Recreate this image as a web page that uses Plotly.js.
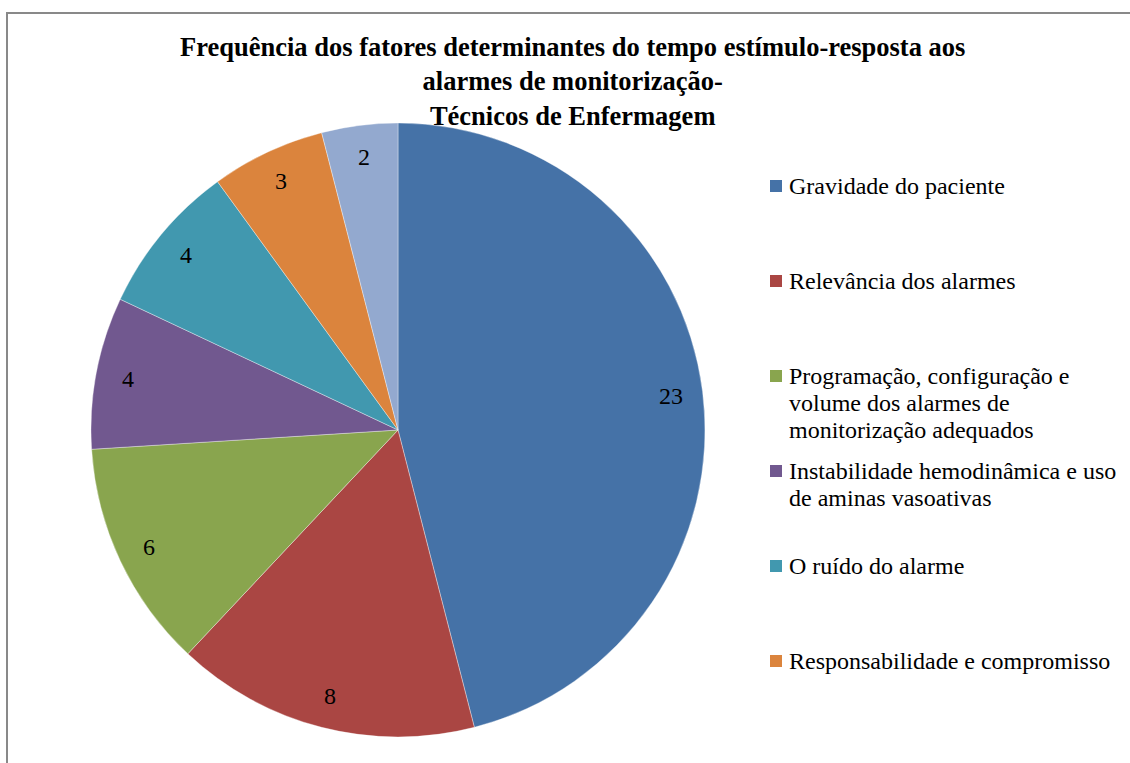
<!DOCTYPE html>
<html>
<head>
<meta charset="utf-8">
<script src="https://cdn.plot.ly/plotly-3.0.1.min.js"></script>
<style>html,body{margin:0;padding:0;background:#fff;}#chart{width:1130px;height:763px;}</style>
</head>
<body>
<div id="chart"></div>
<script>
// ---- data ----
const categories = [
  "Gravidade do paciente",
  "Relevância dos alarmes",
  "Programação, configuração e<br>volume dos alarmes de<br>monitorização adequados",
  "Instabilidade hemodinâmica e uso<br>de aminas vasoativas",
  "O ruído do alarme",
  "Responsabilidade e compromisso",
  "Outros"
];
const values = [23, 8, 6, 4, 4, 3, 2];
const colors = ["#4572A7", "#AA4643", "#89A54E", "#71588F", "#4198AF", "#DB843D", "#93A9CF"];
const legendShown = 6; // legend entries visible in the cropped reference
const titleLines = [
  "Frequência dos fatores determinantes do tempo estímulo-resposta aos",
  "alarmes de monitorização-",
  "Técnicos de Enfermagem"
];

// ---- layout geometry (pixels) ----
const W = 1130, H = 763;
const cxPx = 398, cyPx = 430, rPx = 307;
const labelR = 0.895 * rPx;
const FONT = "Liberation Serif";

const px = x => x / W;
const py = y => 1 - y / H;

const pie = {
  type: "pie",
  labels: categories.map(c => c.replace(/<br>/g, " ")),
  values: values,
  sort: false,
  direction: "clockwise",
  rotation: 0,
  marker: {colors: colors, line: {color: "rgba(255,255,255,0.6)", width: 0.6}},
  textinfo: "none",
  hoverinfo: "label+value",
  showlegend: false,
  domain: {x: [px(cxPx - rPx), px(cxPx + rPx)], y: [py(cyPx + rPx), py(cyPx - rPx)]}
};

const annotations = [];
const shapes = [];

// title (one multi-line text block)
annotations.push({
  xref: "paper", yref: "paper",
  x: px(572), y: py(81),
  text: titleLines.map(t => "<b>" + t + "</b>").join("<br>"),
  showarrow: false, align: "center",
  xanchor: "center", yanchor: "middle",
  font: {family: FONT, size: 26.5, color: "#000"}
});

// data labels near the outer edge of each slice (computed from values)
const total = values.reduce((a, b) => a + b, 0);
let cum = 0;
values.forEach((v, i) => {
  const mid = (cum + v / 2) / total * 2 * Math.PI;
  cum += v;
  annotations.push({
    xref: "paper", yref: "paper",
    x: px(cxPx + labelR * Math.sin(mid)),
    y: py(cyPx - labelR * Math.cos(mid)),
    text: String(v), showarrow: false,
    xanchor: "center", yanchor: "middle",
    font: {family: FONT, size: 24, color: "#000"}
  });
});

// custom legend
const legX = 770, legY0 = 186, legStep = 95, sq = 12, lineH = 27;
for (let i = 0; i < legendShown; i++) {
  const yc = legY0 + i * legStep;
  shapes.push({
    type: "rect", xref: "paper", yref: "paper",
    x0: px(legX), x1: px(legX + sq), y0: py(yc + sq / 2), y1: py(yc - sq / 2),
    fillcolor: colors[i], line: {width: 0}
  });
  categories[i].split("<br>").forEach((ln, k) => {
    annotations.push({
      xref: "paper", yref: "paper",
      x: px(legX + sq + 5), y: py(yc + k * lineH),
      text: ln, showarrow: false, xanchor: "left", yanchor: "middle",
      font: {family: FONT, size: 24, color: "#000"}
    });
  });
}

// chart border
shapes.push({
  type: "rect", xref: "paper", yref: "paper",
  x0: px(7), x1: px(1140), y0: py(780), y1: py(13),
  line: {color: "#898989", width: 2}, fillcolor: "rgba(0,0,0,0)"
});

const layout = {
  width: W, height: H,
  margin: {l: 0, r: 0, t: 0, b: 0},
  paper_bgcolor: "#fff",
  font: {family: FONT},
  showlegend: false,
  annotations: annotations,
  shapes: shapes
};

Plotly.newPlot("chart", [pie], layout, {displayModeBar: false, staticPlot: true});
</script>
</body>
</html>
